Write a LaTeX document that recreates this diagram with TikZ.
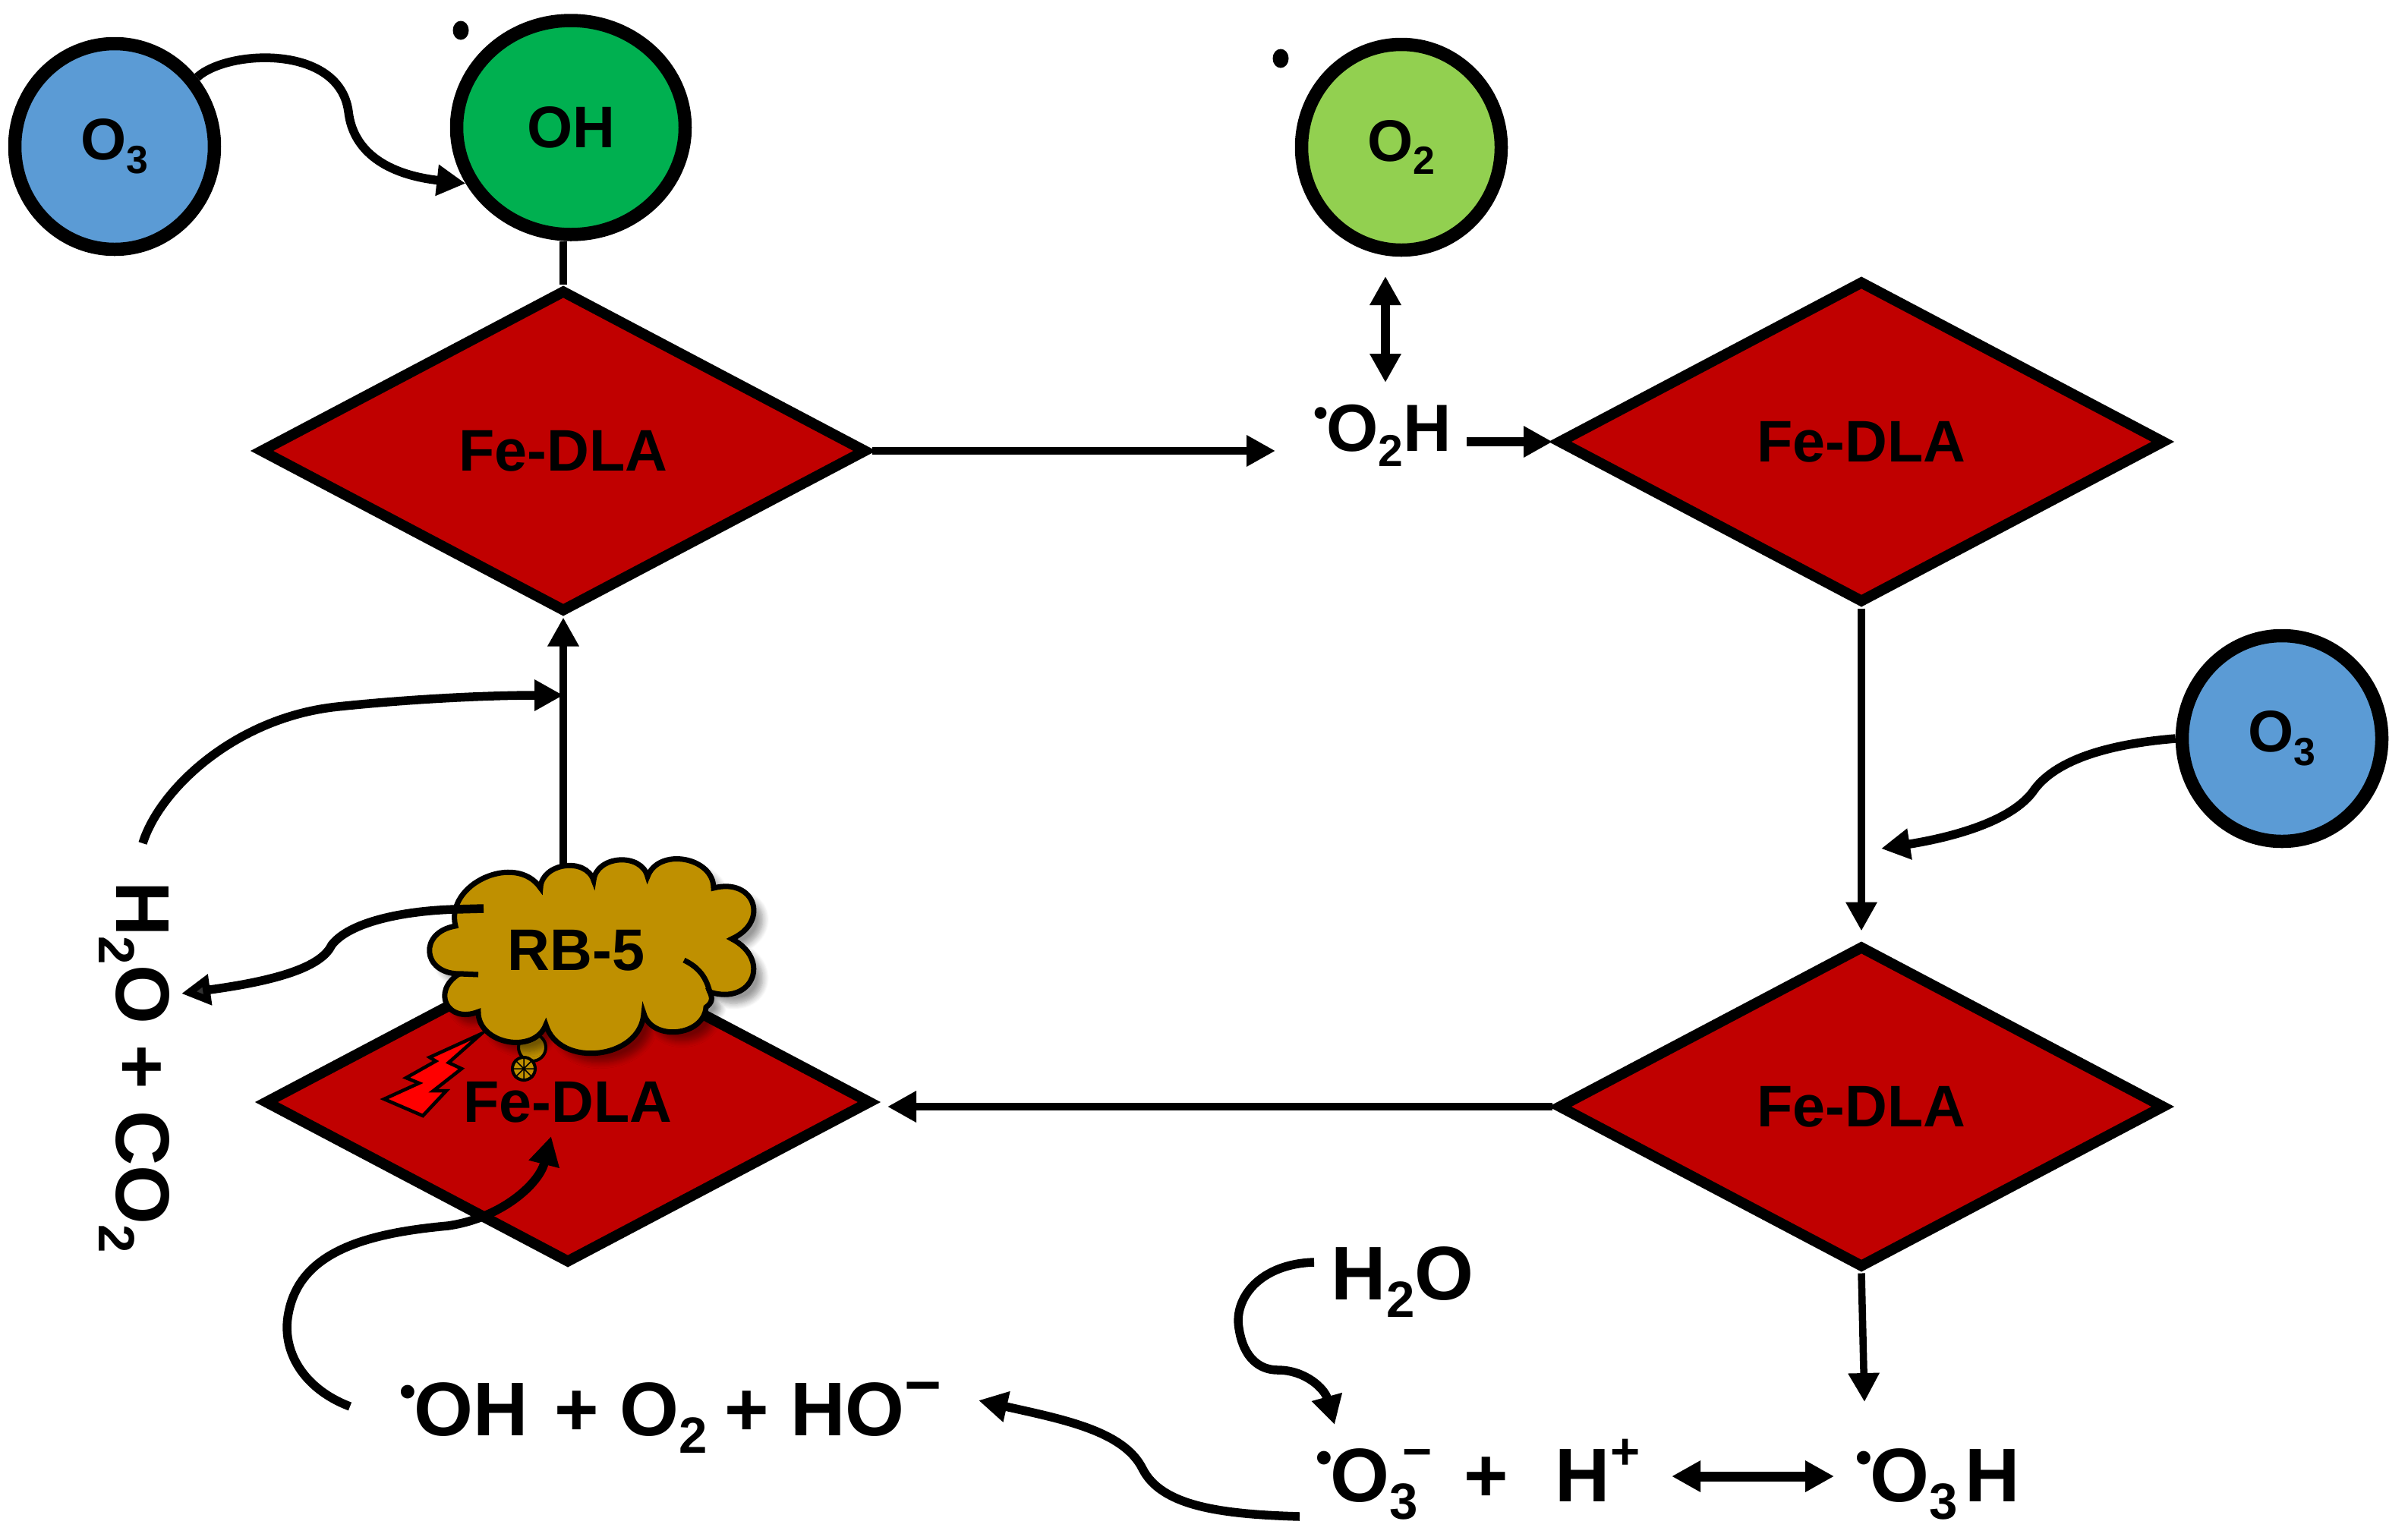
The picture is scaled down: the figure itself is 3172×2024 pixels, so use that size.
\documentclass[tikz,border=0pt]{standalone}
\usepackage{fontspec}
\setmainfont{Liberation Sans}
\usetikzlibrary{shapes.geometric,arrows.meta,shadows.blur}

\definecolor{ozoneblue}{HTML}{5B9BD5}
\definecolor{ohgreen}{HTML}{00B050}
\definecolor{oxgreen}{HTML}{92D050}
\definecolor{fered}{HTML}{C00000}
\definecolor{dyegold}{HTML}{BF9000}

\newcommand{\subx}[1]{\raisebox{-.23em}{\scalebox{.67}{#1}}}
\newcommand{\supx}[1]{\raisebox{.42em}{\scalebox{.67}{#1}}}
\newcommand{\subsupx}[2]{\subx{#1}\kern-.2em\supx{#2}}
\newcommand{\radx}{\raisebox{.36em}{\scalebox{.62}{•}}\kern-.03em}

\begin{document}
\begin{tikzpicture}[x=0.1mm,y=-0.1mm,>={Triangle[length=3.8mm,width=3.9mm]},font=\bfseries]
    \tikzset{
        atom/.style={ellipse,draw=black,line width=1.75mm,inner sep=0pt,minimum width=26.3mm,minimum height=27.1mm,font=\bfseries\fontsize{22}{24}\selectfont},
        fedla/.style={diamond,draw=black,fill=fered,line width=1.4mm,inner sep=0pt,minimum width=80mm,minimum height=42.5mm,font=\bfseries\fontsize{22}{24}\selectfont},
        conn/.style={line width=.95mm},
        curv/.style={line width=1.15mm},
        bigtxt/.style={inner sep=0pt,font=\bfseries\fontsize{28.5}{30}\selectfont},
        dot/.style={ellipse,fill=black,inner sep=0pt,minimum width=2.1mm,minimum height=2.5mm},
        puff/.style={bend left=80,looseness=1.2},
        bigpuff/.style={bend left=85,looseness=2},
    }
    \useasboundingbox (0,0) rectangle (3172,2024);

    % radicals
    \node[atom,fill=ozoneblue] (o3a) at (151,193) {O\subx{3}};
    \node[atom,fill=ohgreen,minimum width=30.1mm,minimum height=28.2mm] (oh) at (752,168) {OH};
    \node[atom,fill=oxgreen] (o2) at (1846,194) {O\subx{2}};
    \node[atom,fill=ozoneblue] (o3b) at (3006,973) {O\subx{3}};
    \node[dot] (dotoh) at (607,40) {};
    \node[dot] (dotox) at (1687,77) {};

    % catalyst
    \node[fedla] (fe1) at (742,594) {Fe-DLA};
    \node[fedla] (fe2) at (2452,582) {Fe-DLA};
    \node[fedla] (fe3) at (2452,1458) {Fe-DLA};
    \node[fedla] (fe4) at (748,1452) {Fe-DLA};

    % species
    \node[inner sep=0pt,anchor=base west,font=\bfseries\fontsize{25}{27}\selectfont] (o2h) at (1730,594) {\radx O\subx{2}H};
    \node[bigtxt,anchor=base west] (h2o) at (1753,1712) {H\subx{2}O};
    \node[bigtxt,anchor=base west] (o3m) at (1733,1978) {\radx O\subsupx{3}{−}\kern.14em{} +\kern.06em{}\ \ H\supx{+}};
    \node[bigtxt,anchor=base west] (o3h) at (2444,1978) {\radx O\subx{3}\kern.1emH};
    \node[bigtxt,anchor=base west] (prod) at (526,1891) {\radx OH\kern.07em{} + O\subx{2}\kern-.05em{} + HO\raisebox{-.05em}{\supx{\scalebox{1.25}{−}}}};
    \node[bigtxt,rotate=-90] (coo) at (177,1406) {H\subx{2}O + CO\subx{2}};

    \coordinate (o2up) at (1825,364);
    \coordinate (o2dn) at (1825,504);
    \coordinate (o2hout) at (1932,582);
    \coordinate (o3bin) at (2478,1118);
    \coordinate (o3hin) at (2456,1847);
    \coordinate (h2oout) at (1731,1663);
    \coordinate (o3min) at (1758,1877);
    \coordinate (o3mout) at (1712,1998);
    \coordinate (prodin) at (1289,1845);
    \coordinate (prodout) at (461,1853);
    \coordinate (fe4in) at (726,1497);
    \coordinate (cooout) at (188,1111);
    \coordinate (cloudout) at (637,1197);
    \coordinate (cooin) at (239,1309);

    % straight ones
    \draw[conn] (fe1.north) -- (fe1.north |- oh.south);
    \draw[conn,->,shorten >=5mm] (fe1.east) -- (fe1.east -| o2h.west);
    \draw[curv,<->] (o2up) -- (o2dn);
    \draw[curv,->] (o2hout) -- (fe2.west);
    \draw[conn,->,shorten >=1.2mm] (fe2.south) -- (fe3.north);
    \draw[conn,->,shorten >=1.4mm] (fe3.west) -- (fe3.west -| fe4.east);
    \draw[conn,->] (fe3.south) -- (o3hin);
    \draw[conn,->] (fe4.north -| fe1.south) -- (fe1.south);
    \draw[line width=1.3mm,<->] ([shift={(41,-33)}]o3m.base east) -- ([shift={(-28,-33)}]o3h.base west);

    % curved ones
    \draw[curv,->] (o3a.40) .. controls (300,65) and (447,58) .. (459,147) .. controls (465,200) and (510,230) .. (oh.208);
    \draw[curv,->] (o3b.west) .. controls (2780,980) and (2710,1000) .. (2680,1040) .. controls (2650,1085) and (2560,1105) .. (o3bin);
    \draw[curv,->] (h2oout) .. controls (1660,1665) and (1625,1710) .. (1632,1750) .. controls (1638,1790) and (1660,1805) .. (1683,1805) .. controls (1720,1805) and (1745,1830) .. (o3min);
    \draw[curv,->] (o3mout) .. controls (1610,1995) and (1530,1985) .. (1505,1935) .. controls (1480,1885) and (1400,1870) .. (prodin);
    \draw[curv,->] (prodout) .. controls (400,1830) and (370,1780) .. (380,1730) .. controls (395,1650) and (480,1625) .. (590,1615) .. controls (660,1605) and (710,1560) .. (fe4in);
    \draw[curv,->] (cooout) .. controls (210,1040) and (310,945) .. (445,931) .. controls (550,920) and (650,916) .. (fe1.south |- 738,916);

    % dye cloud
    \node[ellipse,draw=black,fill=dyegold,line width=.4mm,inner sep=0pt,minimum width=3.6mm,minimum height=3.6mm] (bub1) at (701,1380) {};
    \node[ellipse,draw=black,fill=dyegold,line width=.4mm,inner sep=0pt,minimum width=3mm,minimum height=3mm] (bub2) at (690,1408) {};
    \draw[line width=.15mm] (bub2.north) -- (bub2.south) (bub2.west) -- (bub2.east) (bub2.45) -- (bub2.225) (bub2.135) -- (bub2.315);
    \draw[draw=black,fill=red,line width=.45mm,line join=miter] (634,1362) -- (566,1393) -- (574,1398) -- (535,1420) -- (552,1427) -- (506,1448) -- (557,1470) -- (588,1437) -- (571,1437) -- (608,1408) -- (591,1400) -- cycle;
    \draw[draw=black,fill=dyegold,line width=.7mm,blur shadow={shadow xshift=1.2mm,shadow yshift=-1.2mm,shadow blur steps=8,shadow blur radius=.8mm}]
        (600,1220) to[puff] (712,1170) to[puff] (782,1160) to[puff] (853,1155) to[puff] (940,1170)
        to[bigpuff] (964,1237) to[bigpuff] (935,1307) to[puff,bend left=40] (930,1327) to[puff] (848,1335)
        to[puff] (719,1350) to[puff] (630,1333) to[bigpuff] (605,1283) to[bigpuff] (600,1220) -- cycle;
    \draw[line width=.7mm] (901,1265) to[bend left=25] (935,1307);
    \draw[line width=.7mm] (605,1283) -- (630,1284);
    \node[inner sep=0pt,font=\bfseries\fontsize{22}{24}\selectfont] (rb5) at (759,1252) {RB-5};
    \draw[curv,->] (cloudout) -- (600,1198) .. controls (530,1200) and (460,1215) .. (437,1245) .. controls (425,1270) and (380,1290) .. (cooin);

\end{tikzpicture}
\end{document}
